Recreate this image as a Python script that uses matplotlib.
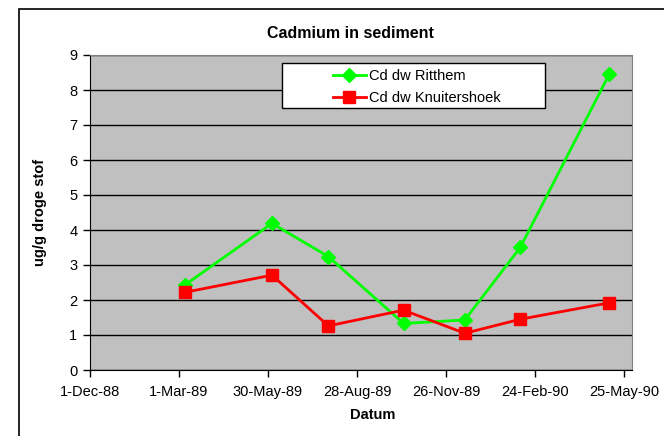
import datetime as dt
import matplotlib
matplotlib.use("Agg")
import matplotlib.pyplot as plt
import matplotlib.dates as mdates
from matplotlib.patches import Rectangle

plt.rcParams['font.family'] = ['Liberation Sans', 'DejaVu Sans']

# sample dates
dates = ["1989-03-07", "1989-06-03", "1989-07-30", "1989-10-14",
         "1989-12-15", "1990-02-09", "1990-05-10"]
ritthem = [2.43, 4.19, 3.24, 1.33, 1.43, 3.50, 8.45]
knuitershoek = [2.22, 2.71, 1.26, 1.71, 1.05, 1.45, 1.92]
tick_dates = ["1988-12-01", "1989-03-01", "1989-05-30", "1989-08-28",
              "1989-11-26", "1990-02-24", "1990-05-25"]

x = [dt.datetime.strptime(d, "%Y-%m-%d") for d in dates]
xt = [dt.datetime.strptime(d, "%Y-%m-%d") for d in tick_dates]

W, H = 664, 436
fig = plt.figure(figsize=(W / 100, H / 100), dpi=100)

# chart area border (Excel style)
fig.patches.append(Rectangle((19 / W, -0.1), 2, 1 - 9 / H + 0.1,
                             transform=fig.transFigure, fill=False,
                             edgecolor='black', linewidth=1.2))

ax = fig.add_axes([90 / W, (H - 370) / H, (632 - 90) / W, (370 - 55) / H])
ax.set_facecolor('#C0C0C0')

ax.plot(x, ritthem, color='#00FF00', lw=2, marker='D', ms=7.5,
        label='Cd dw Ritthem', zorder=3)
ax.plot(x, knuitershoek, color='#FF0000', lw=2, marker='s', ms=8,
        label='Cd dw Knuitershoek', zorder=3)

ax.set_ylim(0, 9)
ax.set_yticks(range(0, 10))
ax.set_xlim(xt[0], xt[0] + dt.timedelta(days=548))
ax.set_xticks(xt)
ax.xaxis.set_major_formatter(
    plt.FuncFormatter(lambda v, p: "%d-%s" % (mdates.num2date(v).day,
                                              mdates.num2date(v).strftime("%b-%y"))))
ax.yaxis.grid(True, color='black', lw=1)
ax.set_axisbelow(True)
ax.tick_params(labelsize=10.5, length=5, width=1, direction='out', pad=4)
ax.tick_params(axis='x', pad=6)
for s in ['top', 'right']:
    ax.spines[s].set_color('#808080')
for s in ['left', 'bottom']:
    ax.spines[s].set_color('black')

fig.text(350 / W, 1 - 34 / H, 'Cadmium in sediment', ha='center', va='center',
         fontsize=11.5, fontweight='bold')
fig.text(40 / W, 1 - 212 / H, 'ug/g droge stof', ha='center', va='center',
         rotation=90, fontsize=10.5, fontweight='bold')
fig.text(373 / W, 1 - 415 / H, 'Datum', ha='center', va='center',
         fontsize=10.5, fontweight='bold')

# legend box
ax.add_patch(Rectangle((282 / W, 1 - 108 / H), (545 - 282) / W, 45 / H,
                       transform=fig.transFigure, facecolor='white',
                       edgecolor='black', linewidth=1, zorder=5, clip_on=False))
leg = ax.legend(loc='upper left', bbox_to_anchor=(321 / W, 1 - 57 / H),
                bbox_transform=fig.transFigure, frameon=False, fontsize=10.5,
                handlelength=2.3, handletextpad=0.2, labelspacing=0.56,
                borderpad=0.3)
leg.set_zorder(6)

fig.savefig('out.png', dpi=100)
